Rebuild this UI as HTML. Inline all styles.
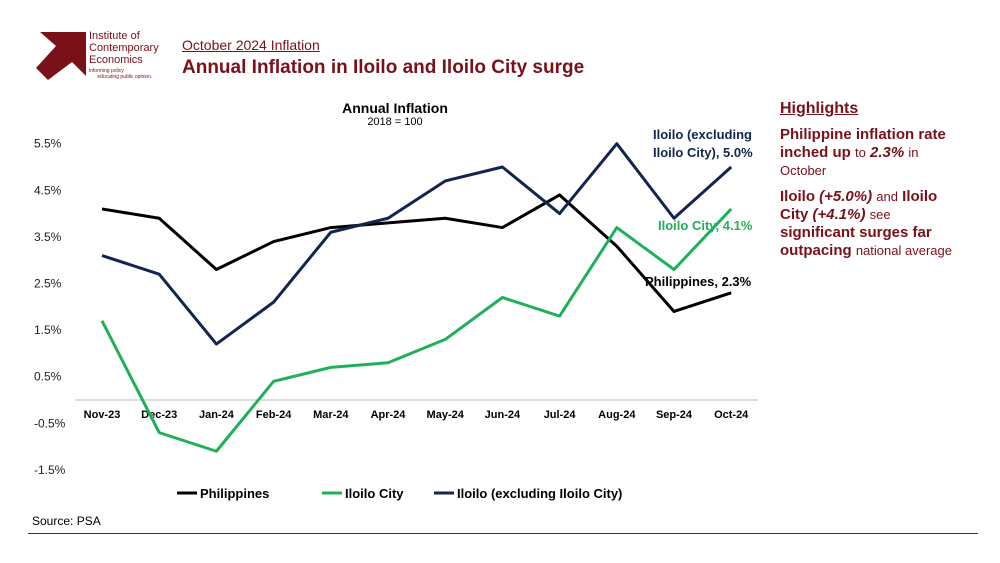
<!DOCTYPE html>
<html><head><meta charset="utf-8"><style>
body{margin:0;width:1000px;height:563px;background:#fff;font-family:"Liberation Sans",sans-serif;position:relative;overflow:hidden}
.a{position:absolute}
.s{font-size:13px;font-weight:normal}
</style></head><body>
<svg class="a" style="left:34px;top:28px" width="56" height="52">
<polygon points="6,4 52,4 52,48 38,34 14,52 2,40 22,18" fill="#7a1018"/>
</svg>
<div class="a" style="left:89px;top:30px;font-size:11px;line-height:12px;color:#7a1018">Institute of<br>Contemporary<br>Economics</div>
<div class="a" style="left:89px;top:68px;font-size:5px;line-height:6px;color:#7a1018">informing policy<br>&nbsp;&nbsp;&nbsp;&nbsp;&nbsp;&nbsp;educating public opinion.</div>
<div class="a" style="left:182px;top:37px;font-size:14px;color:#7a1018;text-decoration:underline">October 2024 Inflation</div>
<div class="a" style="left:182px;top:57px;font-size:19px;font-weight:bold;color:#7a1018">Annual Inflation in Iloilo and Iloilo City surge</div>
<div class="a" style="left:300px;top:100px;width:190px;text-align:center;font-size:14px;font-weight:bold">Annual Inflation<div style="font-size:11px;font-weight:normal">2018 = 100</div></div>
<div class="a" style="left:780px;top:100px;width:215px;white-space:nowrap;color:#7a1018;font-size:15px;line-height:18px;font-weight:bold">
<div style="font-size:16px;text-decoration:underline;margin-bottom:8px">Highlights</div>
<div>Philippine inflation rate<br>inched up <span class="s">to</span> <i>2.3%</i> <span class="s">in</span><br><span class="s">October</span></div>
<div style="margin-top:8px">Iloilo <i>(+5.0%)</i> <span class="s">and</span> Iloilo<br>City <i>(+4.1%)</i> <span class="s">see</span><br>significant surges far<br>outpacing <span class="s">national average</span></div>
</div>
<svg class="a" style="left:0;top:0" width="1000" height="563" id="chart"></svg>
<div class="a" style="left:32px;top:514px;font-size:12px">Source: PSA</div>
<div class="a" style="left:28px;top:533px;width:950px;height:1px;background:#7a1018"></div>
<script>
const categories=["Nov-23","Dec-23","Jan-24","Feb-24","Mar-24","Apr-24","May-24","Jun-24","Jul-24","Aug-24","Sep-24","Oct-24"];
const philippines=[4.1,3.9,2.8,3.4,3.7,3.8,3.9,3.7,4.4,3.3,1.9,2.3];
const iloiloCity=[1.7,-0.7,-1.1,0.4,0.7,0.8,1.3,2.2,1.8,3.7,2.8,4.1];
const iloiloExcl=[3.1,2.7,1.2,2.1,3.6,3.9,4.7,5.0,4.0,5.5,3.9,5.0];
const yTicks=[5.5,4.5,3.5,2.5,1.5,0.5,-0.5,-1.5];
const svg=document.getElementById('chart');const NS='http://www.w3.org/2000/svg';
const X=i=>102+i*57.2, Y=v=>400-v*46.6;
function mk(t,a){const e=document.createElementNS(NS,t);for(const k in a)e.setAttribute(k,a[k]);svg.appendChild(e);return e;}
yTicks.forEach(v=>{const t=mk('text',{x:34,y:Y(v)+4,'font-size':12,fill:'#222'});t.textContent=v.toFixed(1)+'%';

});
const ax=mk('line',{x1:75,x2:758,y1:Y(0),y2:Y(0),stroke:'#bbb'});


categories.forEach((c,i)=>{const t=mk('text',{x:X(i),y:418,'font-size':11,'font-weight':'bold','text-anchor':'middle'});t.textContent=c;

});
function line(d,col,name){const p=mk('polyline',{points:d.map((v,i)=>X(i)+','+Y(v)).join(' '),fill:'none',stroke:col,'stroke-width':3,'stroke-linejoin':'round'});

}
line(philippines,'#000','philippines-line');
line(iloiloCity,'#1fb05a','iloilo-city-line');
line(iloiloExcl,'#13244f','iloilo-excl-line');
function lab(x,y,txt,col,name){const t=mk('text',{x:x,y:y,'font-size':13,'font-weight':'bold',fill:col});t.textContent=txt;

}
lab(653,139,'Iloilo (excluding','#13244f','iloilo-excl-label');
lab(653,157,'Iloilo City), 5.0%','#13244f','iloilo-excl-label-2');
lab(658,230,'Iloilo City, 4.1%','#1fb05a','iloilo-city-label');
lab(645,286,'Philippines, 2.3%','#000','philippines-label');
const leg=[['Philippines','#000',177],['Iloilo City','#1fb05a',322],['Iloilo (excluding Iloilo City)','#13244f',434]];
leg.forEach(l=>{const s=mk('line',{x1:l[2],x2:l[2]+20,y1:493,y2:493,stroke:l[1],'stroke-width':3});


const t=mk('text',{x:l[2]+23,y:498,'font-size':13,'font-weight':'bold'});t.textContent=l[0];

});
</script>
</body></html>
